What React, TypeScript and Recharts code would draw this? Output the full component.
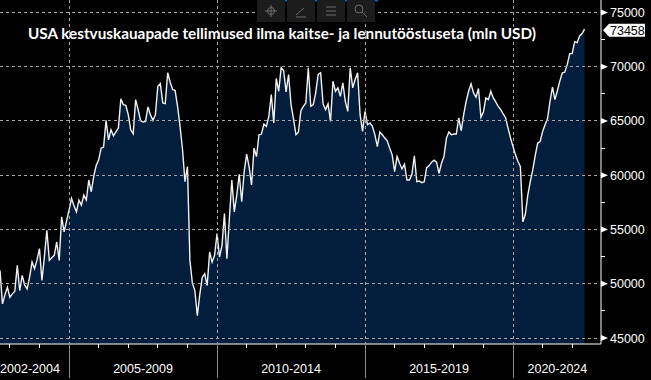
import React from 'react';
import { AreaChart, Area, XAxis, YAxis } from 'recharts';

const title = 'USA kestvuskauapade tellimused ilma kaitse- ja lennutööstuseta (mln USD)';

const startYear = 2002;
const startMonth = 9;

const values = [
  51230, 48146, 49000, 49684, 48758, 49072, 49315, 51693, 49378, 50767,
  49900, 49535, 50610, 51999, 51387, 52200, 53239, 50304, 52500, 54934,
  52156, 52400, 52619, 53851, 52156, 56166, 54777, 55800, 56786, 57869,
  57200, 56629, 57712, 57249, 58175, 57712, 59564, 58481, 59900,
  60900, 61416, 62499, 62592, 65055, 63268, 64194, 63638, 64000, 64351,
  67037, 66509, 66444, 65583, 64194, 63824, 66972, 66046, 65027, 64900,
  64963, 66296, 65583, 65055, 65583, 68204, 68454, 66666, 66602, 69444,
  68574, 67898, 67805, 66352, 64500, 62400, 59407, 60796, 52156, 50054,
  49378, 47063, 49000,
  50610, 50924, 49841, 52925, 51999, 52619, 54628, 52462, 53545, 56480,
  52313, 56017, 59564, 56629, 58175, 60092, 57555, 60333, 61944, 60796,
  59101, 62499, 61722, 63731, 63796, 64722, 64500, 65426, 67435, 64814,
  68917, 67741, 69907, 69657, 67685, 69287, 66509, 65200, 63731, 63981,
  65953, 66352, 66666, 69907, 66352, 66509, 67592, 69287, 69444, 66574,
  66046, 66574, 64963, 68667, 67741, 68055, 67278, 68518, 66815, 65889,
  69907, 68055, 68824, 69444, 65583, 64037, 65889, 64657, 64814, 64500,
  63731, 62648, 63981, 63731, 63425, 63175, 62500, 61879, 60333, 61722,
  61110,
  60583, 61018, 59564, 59564, 60092, 61786, 59407, 59471, 59314, 59407,
  60703, 60888, 61203, 61388, 61203, 60184, 61110, 61722, 63425, 63981,
  63731, 63796, 63796, 65277, 64101, 65583, 66815, 67741, 68426, 67592,
  67185, 67991, 65333, 65833, 67129, 66972, 67741, 67129, 66759, 66352,
  66046, 65648,
  65300, 64351, 63425, 62648, 61879, 61259, 60796, 55703, 56400, 58175,
  59407, 60490, 61800, 62962, 63111, 64037, 64657, 65200, 66815, 68111,
  66972, 67805, 68700, 69444, 69500, 70213, 71204, 71204, 72315, 72222,
  72834, 73056, 73458,
];

const yMajorTicks = [45000, 50000, 55000, 60000, 65000, 70000, 75000];
const yMinorTicks = [47500, 52500, 57500, 62500, 67500, 72500];
const periodLabels = ['2002-2004', '2005-2009', '2010-2014', '2015-2019', '2020-2024'];
const periodLabelPos = [2003.68, 2007.5, 2012.5, 2017.5, 2021.5];
const periodBreaks = [2005, 2010, 2015, 2020];
const yearTicks = [2003, 2004, 2005, 2006, 2007, 2008, 2009, 2010, 2011, 2012, 2013, 2014, 2015, 2016, 2017, 2018, 2019, 2020, 2021, 2022];

const data = values.map((v, i) => ({ t: startYear + (startMonth - 1 + i) / 12, v }));
const lastValue = values[values.length - 1];
const xMin = startYear + (startMonth - 1) / 12;
const xMax = 2022.973;
const yMin = 44450;
const yMax = 76150;

const FONT = '"Liberation Sans", Arial, sans-serif';
const GRID = '#a6a6a6';

const XTick = (props: any) => {
  const { x, y, payload } = props;
  const v = payload.value;
  const li = periodLabelPos.indexOf(v);
  if (li >= 0) {
    return (
      <text x={x} y={y + 29} textAnchor="middle" fill="#ffffff" fontSize={12.5} fontFamily={FONT}>
        {periodLabels[li]}
      </text>
    );
  }
  if (periodBreaks.includes(v)) {
    return (
      <g>
        <line x1={x} x2={x} y1={0} y2={y} stroke={GRID} strokeWidth={1} strokeDasharray="3 3" shapeRendering="crispEdges" />
        <line x1={x} x2={x} y1={y} y2={y + 34} stroke="#8c8c8c" strokeWidth={1} shapeRendering="crispEdges" />
      </g>
    );
  }
  return <line x1={x} x2={x} y1={y} y2={y + 4} stroke="#ffffff" strokeWidth={1} shapeRendering="crispEdges" />;
};

const YTick = (props: any) => {
  const { x, y, payload } = props;
  const v = payload.value;
  if (v === lastValue) {
    return (
      <g>
        <polygon
          points={`${x + 2},${y + 1} ${x + 8},${y - 5.5} ${x + 44},${y - 5.5} ${x + 44},${y + 7.5} ${x + 8},${y + 7.5}`}
          fill="#ffffff"
        />
        <text x={x + 9} y={y + 6} fill="#000000" fontSize={12.5} fontFamily={FONT}>
          {String(v)}
        </text>
      </g>
    );
  }
  if (v % 5000 === 0) {
    return (
      <g>
        <line x1={0} x2={x} y1={y} y2={y} stroke={GRID} strokeWidth={1} strokeDasharray="3 3" shapeRendering="crispEdges" />
        <polygon points={`${x},${y - 3} ${x + 7},${y} ${x},${y + 3}`} fill="#ffffff" />
        <text x={x + 9} y={y + 4.5} fill="#ffffff" fontSize={12.5} fontFamily={FONT}>
          {String(v)}
        </text>
      </g>
    );
  }
  return <line x1={x} x2={x + 4} y1={y} y2={y} stroke="#ffffff" strokeWidth={1} shapeRendering="crispEdges" />;
};

export default function App() {
  return (
    <div style={{ position: 'absolute', left: 0, top: 0, width: 651, height: 380, background: '#000000', overflow: 'hidden' }}>
      <AreaChart width={651} height={380} data={data} margin={{ top: 0, right: 0, bottom: 0, left: 0 }}>
        <Area
          type="linear"
          dataKey="v"
          stroke="#f2f2f2"
          strokeWidth={1.4}
          fill="#031e3c"
          fillOpacity={1}
          isAnimationActive={false}
          dot={false}
          activeDot={false}
        />
        <XAxis
          type="number"
          dataKey="t"
          domain={[xMin, xMax]}
          allowDataOverflow
          ticks={[...yearTicks, ...periodLabelPos]}
          interval={0}
          tick={<XTick />}
          tickLine={false}
          tickSize={0}
          tickMargin={0}
          axisLine={{ stroke: '#ffffff' }}
          height={36}
        />
        <YAxis
          orientation="right"
          type="number"
          domain={[yMin, yMax]}
          allowDataOverflow
          ticks={[...yMajorTicks, ...yMinorTicks, lastValue]}
          interval={0}
          tick={<YTick />}
          tickLine={false}
          tickSize={0}
          tickMargin={0}
          axisLine={{ stroke: '#ffffff' }}
          width={50}
        />
      </AreaChart>
      <svg width={651} height={380} style={{ position: 'absolute', left: 0, top: 0, pointerEvents: 'none' }}>
        <rect x={278} y={0} width={100} height={1.5} fill="#1f5fbf" />
        <rect x={257} y={0} width={28} height={22} fill="#1c1c1c" />
        <rect x={287} y={0} width={28} height={22} fill="#1c1c1c" />
        <rect x={317} y={0} width={28} height={22} fill="#1c1c1c" />
        <rect x={347} y={0} width={28} height={22} fill="#1c1c1c" />
        <g stroke="#6c6c6c" strokeWidth={1} fill="none">
          <circle cx={271} cy={11} r={3.5} />
          <line x1={265} x2={277} y1={11} y2={11} />
          <line x1={271} x2={271} y1={5} y2={17} />
          <line x1={296} x2={304} y1={15} y2={8} />
          <line x1={296} x2={306} y1={17} y2={17} />
          <line x1={326} x2={336} y1={7} y2={7} />
          <line x1={326} x2={336} y1={11} y2={11} />
          <line x1={326} x2={336} y1={15} y2={15} />
          <circle cx={359} cy={9} r={4} />
          <line x1={362} x2={367} y1={12} y2={17} />
        </g>
        <text x={282} y={38.5} textAnchor="middle" fill="#ffffff" fontSize={15.3} fontWeight="bold" fontFamily="Lato, 'Open Sans', sans-serif">
          {title}
        </text>
      </svg>
    </div>
  );
}
